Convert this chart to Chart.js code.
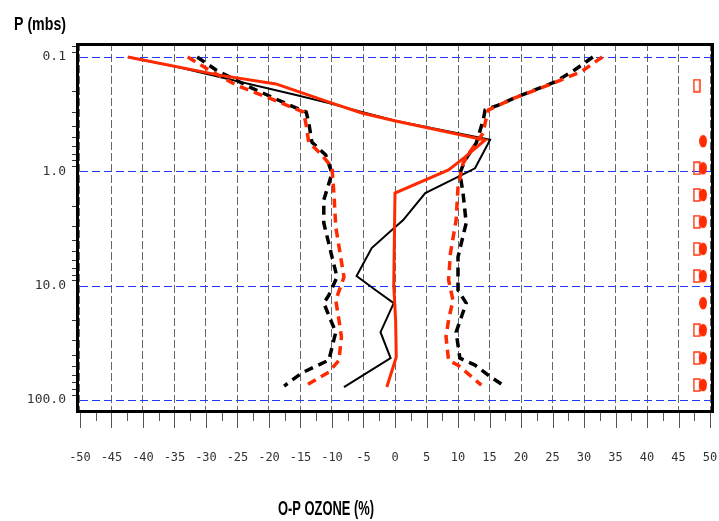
<!DOCTYPE html>
<html>
<head>
<meta charset="utf-8">
<script src="https://cdn.jsdelivr.net/npm/chart.js@4.4.0/dist/chart.umd.min.js"></script>
<style>
  html, body { margin: 0; padding: 0; background: #fff; }
  canvas { display: block; }
</style>
</head>
<body>
<canvas id="ozoneChart" width="719" height="521"></canvas>
<script>
// axis ticks
const xTicks = [-50, -45, -40, -35, -30, -25, -20, -15, -10, -5, 0, 5, 10, 15, 20, 25, 30, 35, 40, 45, 50];
const pressureTicks = [0.1, 1, 10, 100];
const pressureLabels = ['0.1', '1.0', '10.0', '100.0'];

// solid lines: pressure (mbs) and O-P ozone (%)
const redSolidP = [0.1, 0.144, 0.172, 0.202, 0.253, 0.309, 0.363, 0.418, 0.532, 0.75, 0.97, 1.55, 10, 20, 42, 77];
const redSolidX = [-42.4, -27.9, -18.9, -15.2, -10.0, -5.3, 0.1, 5.3, 14.3, 11.1, 8.5, 0.0, -0.2, 0.1, 0.2, -1.3];
const blackSolidP = [0.1, 0.122, 0.215, 0.253, 0.36, 0.53, 0.94, 1.12, 1.55, 2.67, 3.26, 4.69, 8.24, 10.9, 14.2, 25.5, 43, 77];
const blackSolidX = [-42.4, -34.7, -15.7, -10.5, 0.0, 15.1, 12.7, 10.0, 4.8, 1.3, -0.5, -3.7, -6.1, -3.1, -0.2, -2.3, -0.7, -8.1];

// dashed envelopes, left and right
const redDashLP = [0.1, 0.13, 0.176, 0.228, 0.303, 0.394, 0.554, 0.72, 0.92, 1.55, 3.07, 8.4, 13.4, 20, 28, 45, 57, 74];
const redDashLX = [-32.9, -29.5, -25.2, -20.0, -14.5, -14.1, -13.7, -11.6, -10.0, -9.7, -9.4, -8.1, -9.4, -8.9, -8.5, -8.9, -10.5, -14.0];
const redDashRP = [0.1, 0.135, 0.159, 0.187, 0.228, 0.291, 0.378, 0.46, 0.65, 0.85, 1.37, 2.67, 5.2, 8.9, 13.4, 20, 28, 45, 49.5, 74];
const redDashRX = [32.9, 29.5, 26.3, 23.1, 19.0, 14.8, 14.3, 14.0, 12.1, 10.8, 10.0, 9.7, 8.8, 8.5, 9.2, 8.5, 8.1, 8.5, 10.0, 13.7];
const blackDashLP = [0.1, 0.13, 0.187, 0.263, 0.303, 0.371, 0.554, 0.72, 1.04, 1.78, 2.83, 5.6, 8.4, 12.1, 14.2, 20, 25.5, 44.8, 58, 75.5];
const blackDashLX = [-31.4, -28.4, -22.7, -16.8, -14.1, -13.7, -13.2, -11.0, -10.0, -11.3, -11.3, -10.0, -9.2, -10.5, -11.3, -10.2, -9.4, -10.5, -14.8, -17.6];
const blackDashRP = [0.1, 0.13, 0.165, 0.194, 0.228, 0.263, 0.291, 0.356, 0.565, 0.80, 1.04, 1.55, 2.83, 5.6, 10.9, 14.2, 25.5, 43, 49.5, 63, 77];
const blackDashRX = [31.4, 28.5, 25.4, 22.2, 19.0, 16.4, 14.3, 14.0, 12.9, 11.1, 10.3, 10.8, 11.3, 10.0, 10.0, 11.3, 9.7, 10.3, 12.7, 15.2, 17.6];

// markers at the right edge
const squareP = [0.178, 0.94, 1.61, 2.76, 4.76, 8.24, 24.5, 43, 74];
const squareX = [47.9, 47.9, 47.9, 47.9, 47.9, 47.9, 47.9, 47.9, 47.9];
const circleP = [0.545, 0.94, 1.61, 2.76, 4.76, 8.24, 14.2, 24.5, 43, 74];
const circleX = [48.9, 48.9, 48.9, 48.9, 48.9, 48.9, 48.9, 48.9, 48.9, 48.9];

const RED = '#ff2a00';
const BLUE = '#1f3bff';

function pts(xs, ps) {
    return xs.map(function (v, i) { return { x: v, y: ps[i] }; });
}

function lineSet(xs, ps, color, width, dash) {
    return {
        data: pts(xs, ps),
        showLine: true,
        borderColor: color,
        borderWidth: width,
        borderDash: dash || [],
        pointRadius: 0,
        tension: 0,
        fill: false
    };
}

function markerCanvas(kind) {
    var c = document.createElement('canvas');
    c.width = 8;
    c.height = 14;
    var g = c.getContext('2d');
    if (kind === 'rect') {
        g.strokeStyle = RED;
        g.lineWidth = 1.4;
        g.strokeRect(1, 1, 6, 12);
    } else {
        g.fillStyle = RED;
        g.beginPath();
        g.ellipse(4, 7, 3.9, 6.3, 0, 0, 2 * Math.PI);
        g.fill();
    }
    return c;
}

function fittedText(ctx, text, cx, cy, size, width) {
    ctx.save();
    ctx.font = 'bold ' + size + 'px "Liberation Sans", Arial, sans-serif';
    var w = ctx.measureText(text).width;
    ctx.translate(cx, cy);
    ctx.scale(width / w, 1);
    ctx.fillStyle = '#000';
    ctx.textAlign = 'center';
    ctx.textBaseline = 'middle';
    ctx.fillText(text, 0, 0);
    ctx.restore();
}

// blue pressure grid lines, drawn under the data
const pressureGrid = {
    id: 'pressureGrid',
    beforeDatasetsDraw: function (chart) {
        var ctx = chart.ctx, a = chart.chartArea;
        var x = chart.scales.x, y = chart.scales.y;
        ctx.save();
        ctx.strokeStyle = BLUE;
        ctx.lineWidth = 1;
        ctx.setLineDash([8, 4]);
        pressureTicks.forEach(function (p) {
            var py = Math.round(y.getPixelForValue(p)) + 0.5;
            ctx.beginPath();
            ctx.moveTo(Math.round(x.getPixelForValue(-50)), py);
            ctx.lineTo(a.right, py);
            ctx.stroke();
        });
        ctx.restore();
    }
};

const framePlugin = {
    id: 'frame',
    afterDraw: function (chart) {
        var ctx = chart.ctx, a = chart.chartArea;
        var x = chart.scales.x, y = chart.scales.y;
        ctx.save();
        // tick marks under the bottom edge
        ctx.strokeStyle = '#555';
        ctx.lineWidth = 1;
        for (var v = -50; v <= 50; v += 2.5) {
            var px = Math.round(x.getPixelForValue(v)) + 0.5;
            var len = (v % 5 === 0) ? 15 : 8;
            ctx.beginPath();
            ctx.moveTo(px, a.bottom);
            ctx.lineTo(px, a.bottom + len);
            ctx.stroke();
        }
        // minor log ticks on the left edge
        ctx.strokeStyle = '#333';
        [0.01, 0.1, 1, 10].forEach(function (d) {
            for (var k = 2; k <= 9; k++) {
                var py = y.getPixelForValue(d * k);
                if (py < a.top || py > a.bottom) continue;
                py = Math.round(py) + 0.5;
                ctx.beginPath();
                ctx.moveTo(a.left - 4, py);
                ctx.lineTo(a.left, py);
                ctx.stroke();
            }
        });
        // frame
        ctx.strokeStyle = '#000';
        ctx.lineWidth = 3;
        ctx.strokeRect(a.left + 1.5, a.top + 1.5, a.right - a.left - 3, a.bottom - a.top - 3);
        ctx.restore();

        fittedText(ctx, 'P (mbs)', 40, 25, 18, 52);
        fittedText(ctx, 'O-P OZONE (%)', 326, 509, 21, 96);
    }
};

new Chart(document.getElementById('ozoneChart'), {
    type: 'scatter',
    data: {
        datasets: [
            {
                data: pts(circleX, circleP),
                pointStyle: markerCanvas('ellipse'),
                pointRadius: 3,
                showLine: false
            },
            {
                data: pts(squareX, squareP),
                pointStyle: markerCanvas('rect'),
                pointRadius: 3,
                showLine: false
            },
            lineSet(redSolidX, redSolidP, RED, 3),
            lineSet(redDashLX, redDashLP, RED, 3.5, [9, 6]),
            lineSet(redDashRX, redDashRP, RED, 3.5, [9, 6]),
            lineSet(blackSolidX, blackSolidP, '#000', 2),
            lineSet(blackDashLX, blackDashLP, '#000', 3.5, [9, 6]),
            lineSet(blackDashRX, blackDashRP, '#000', 3.5, [9, 6])
        ]
    },
    options: {
        responsive: false,
        animation: false,
        devicePixelRatio: 1,
        layout: { padding: { top: 43, right: 2, left: 0, bottom: 0 } },
        plugins: {
            legend: { display: false },
            tooltip: { enabled: false }
        },
        scales: {
            x: {
                type: 'linear',
                min: -50.63,
                max: 50.63,
                afterBuildTicks: function (scale) {
                    scale.ticks = xTicks.map(function (v) { return { value: v }; });
                },
                afterFit: function (scale) {
                    scale.height = 108;
                    scale.paddingLeft = 0;
                    scale.paddingRight = 0;
                },
                grid: {
                    color: '#666',
                    lineWidth: 1,
                    drawTicks: false
                },
                border: { display: false, dash: [8, 3] },
                ticks: {
                    color: '#333',
                    padding: 38,
                    maxRotation: 0,
                    autoSkip: false,
                    font: { family: '"DejaVu Sans Mono", monospace', size: 12 }
                }
            },
            y: {
                type: 'logarithmic',
                reverse: true,
                min: 0.0754,
                max: 129.9,
                afterBuildTicks: function (scale) {
                    scale.ticks = pressureTicks.map(function (v) { return { value: v }; });
                },
                afterFit: function (scale) {
                    scale.width = 76;
                    scale.paddingTop = 0;
                    scale.paddingBottom = 0;
                },
                grid: { display: false, drawTicks: false },
                border: { display: false },
                ticks: {
                    color: '#333',
                    padding: 10,
                    autoSkip: false,
                    font: { family: '"DejaVu Sans Mono", monospace', size: 13 },
                    callback: function (v, i) { return pressureLabels[i]; }
                }
            }
        }
    },
    plugins: [pressureGrid, framePlugin]
});
</script>
</body>
</html>
